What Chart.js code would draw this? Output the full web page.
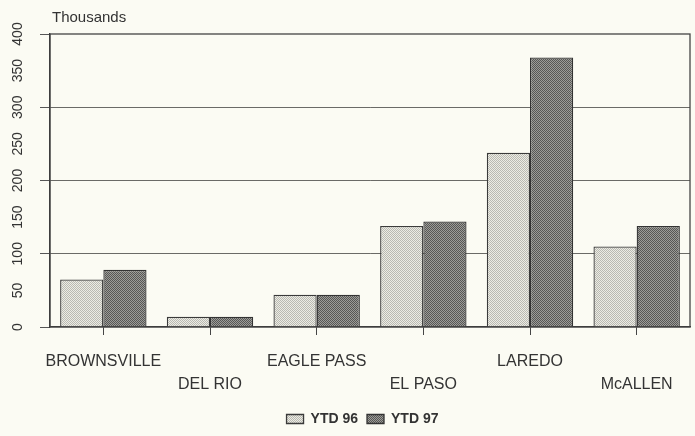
<!DOCTYPE html>
<html>
<head>
<meta charset="utf-8">
<script src="https://cdn.jsdelivr.net/npm/chart.js@4/dist/chart.umd.min.js"></script>
<style>
  html, body { margin: 0; padding: 0; background: #fbfbf3; }
  #wrap { width: 695px; height: 436px; position: relative; }
</style>
</head>
<body>
<div id="wrap"><canvas id="barChart"></canvas></div>
<script>
// data (thousands)
const categories = ['BROWNSVILLE', 'DEL RIO', 'EAGLE PASS', 'EL PASO', 'LAREDO', 'McALLEN'];
const ytd96 = [65, 14, 44, 138, 238, 110];
const ytd97 = [78, 14, 44, 144, 368, 138];
const seriesNames = ['YTD 96', 'YTD 97'];
const unitLabel = 'Thousands';

const FONT = '"Liberation Sans", Arial, sans-serif';
const INK = '#333';

// little dither patterns to mimic the printed screen
function dither(c1, c2) {
  const p = document.createElement('canvas');
  p.width = 2; p.height = 2;
  const g = p.getContext('2d');
  g.fillStyle = c1; g.fillRect(0, 0, 2, 2);
  g.fillStyle = c2; g.fillRect(0, 0, 1, 1); g.fillRect(1, 1, 1, 1);
  return g.createPattern(p, 'repeat');
}
const lightFill = dither('#ecece4', '#b9b9b2');
const darkFill = dither('#9c9c98', '#575755');

/* ================= FRAME + UNIT LABEL ================= */
const framePlugin = {
  id: 'frame',
  afterLayout(chart) {
    // legend in the scan sits a bit right of the page centre
    if (chart.legend) chart.legend.left += 35;
  },
  beforeDraw(chart) {
    const c = chart.ctx;
    c.save();
    c.fillStyle = '#fbfbf3';
    c.fillRect(0, 0, chart.width, chart.height);
    c.restore();
  },
  afterDatasetsDraw(chart) {
    const { ctx, chartArea: a } = chart;
    ctx.save();
    ctx.strokeStyle = '#444';
    ctx.lineWidth = 1.3;
    ctx.strokeRect(a.left, a.top, a.right - a.left, a.bottom - a.top);
    ctx.fillStyle = INK;
    ctx.font = '15px ' + FONT;
    ctx.textBaseline = 'alphabetic';
    ctx.fillText(unitLabel, a.left + 2, a.top - 12);
    ctx.restore();
  }
};

const ctx = document.getElementById('barChart');

new Chart(ctx, {
  type: 'bar',
  data: {
    labels: categories,
    datasets: [{
      label: seriesNames[0],
      data: ytd96,
      backgroundColor: lightFill,
      borderColor: '#3a3a3a',
      borderWidth: 1.3
    }, {
      label: seriesNames[1],
      data: ytd97,
      backgroundColor: darkFill,
      borderColor: '#333',
      borderWidth: 1.3
    }]
  },
  options: {
    responsive: true,
    maintainAspectRatio: false,
    animation: false,
    datasets: { bar: { categoryPercentage: 0.81, barPercentage: 1.0 } },
    layout: { padding: { top: 34, right: 5, left: 0, bottom: 0 } },
    plugins: {
      tooltip: { enabled: false },
      legend: {
        position: 'bottom',
        labels: {
          boxWidth: 17,
          boxHeight: 9,
          padding: 9,
          color: INK,
          font: { family: FONT, size: 14, weight: 'bold' }
        }
      }
    },
    scales: {
      x: {
        afterFit(s) { s.height = 76; },
        border: { display: true, color: '#333', width: 1.3 },
        grid: {
          display: true,
          drawOnChartArea: false,
          offset: false,
          tickLength: 8,
          color: '#444'
        },
        ticks: {
          autoSkip: false,
          maxRotation: 0,
          padding: 15,
          color: INK,
          font: { family: FONT, size: 16, lineHeight: 1.44 },
          callback: function (v, i) {
            const name = categories[i];
            return i % 2 ? ['', name] : name;
          }
        }
      },
      y: {
        min: 0,
        max: 400,
        afterFit(s) { s.width = 50; },
        border: { display: true, color: '#333', width: 1.3 },
        grid: {
          tickLength: 10,
          color: function (c) {
            const v = c.tick.value;
            return (v % 100 === 0 && v > 0 && v < 400) ? '#6a6a66' : 'rgba(0,0,0,0)';
          },
          tickColor: function (c) {
            return c.tick.value % 100 === 0 ? '#555' : 'rgba(0,0,0,0)';
          }
        },
        ticks: {
          stepSize: 50,
          minRotation: 90,
          maxRotation: 90,
          crossAlign: 'center',
          padding: 10,
          color: INK,
          font: { family: FONT, size: 14 }
        }
      }
    }
  },
  plugins: [framePlugin]
});
</script>
</body>
</html>
